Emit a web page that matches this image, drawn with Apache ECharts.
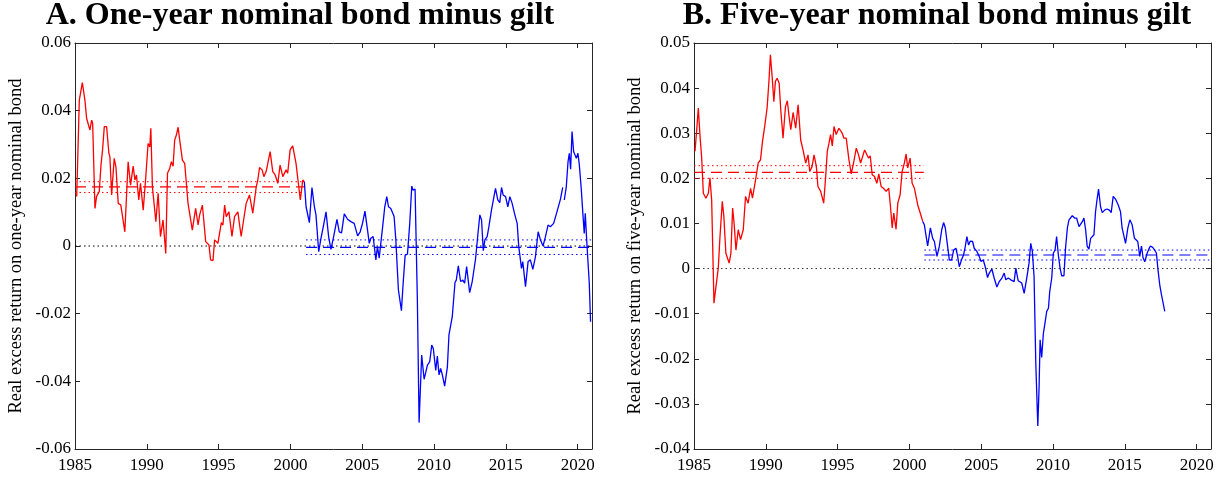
<!DOCTYPE html>
<html><head><meta charset="utf-8">
<script src="https://cdn.jsdelivr.net/npm/echarts@6/dist/echarts.min.js"></script>
<style>html,body{margin:0;padding:0;background:#fff}#c{width:1225px;height:478px}</style>
</head><body><div id="c"></div>
<script>
// ---------- DATA (year, value) ----------
const titles = ['A. One-year nominal bond minus gilt', 'B. Five-year nominal bond minus gilt'];
const yNames = ['Real excess return on one-year nominal bond', 'Real excess return on five-year nominal bond'];
const xTicks = [1985, 1990, 1995, 2000, 2005, 2010, 2015, 2020];
const xRange = [1985, 2021];
const yRangeA = [-0.06, 0.06, 0.02];
const yRangeB = [-0.04, 0.05, 0.01];

const oneYearPre = [
[1985.12,0.0146],[1985.30,0.0431],[1985.51,0.0483],[1985.69,0.0431],[1985.81,0.0377],[1985.93,0.0382],
[1986.04,0.0343],[1986.16,0.0372],[1986.23,0.0363],[1986.39,0.0111],[1986.50,0.0146],[1986.69,0.0161],
[1986.81,0.0239],[1986.92,0.0284],[1987.04,0.0353],[1987.20,0.0353],[1987.36,0.0274],[1987.43,0.0264],
[1987.55,0.0151],[1987.73,0.0259],[1987.85,0.0234],[1988.01,0.0126],[1988.19,0.0121],[1988.47,0.0042],
[1988.70,0.0249],[1988.87,0.0180],[1989.05,0.0236],[1989.17,0.0195],[1989.28,0.0210],[1989.44,0.0136],
[1989.56,0.0185],[1989.75,0.0106],[1989.93,0.0205],[1990.09,0.0303],[1990.21,0.0293],[1990.28,0.0348],
[1990.39,0.0175],[1990.63,0.0072],[1990.79,0.0156],[1990.95,0.0028],[1991.13,0.0077],[1991.32,-0.0022],
[1991.44,0.0215],[1991.60,0.0230],[1991.71,0.0249],[1991.83,0.0236],[1991.94,0.0313],[1992.06,0.0328],
[1992.18,0.0351],[1992.29,0.0313],[1992.48,0.0254],[1992.64,0.0244],[1992.87,0.0126],[1993.17,0.0047],
[1993.40,0.0111],[1993.57,0.0062],[1993.68,0.0092],[1993.87,0.0121],[1994.10,0.0013],[1994.33,0.0003],
[1994.44,-0.0041],[1994.61,-0.0043],[1994.72,0.0018],[1994.95,0.0008],[1995.19,0.0069],[1995.30,0.0062],
[1995.42,0.0121],[1995.53,0.0087],[1995.72,0.0101],[1995.93,0.0028],[1996.11,0.0087],[1996.34,0.0101],
[1996.57,0.0028],[1996.76,0.0082],[1996.92,0.0126],[1997.15,0.0151],[1997.38,0.0097],[1997.62,0.0175],
[1997.73,0.0195],[1997.85,0.0232],[1998.03,0.0225],[1998.15,0.0205],[1998.31,0.0220],[1998.59,0.0279],
[1998.77,0.0220],[1998.94,0.0210],[1999.12,0.0185],[1999.28,0.0239],[1999.47,0.0205],[1999.70,0.0225],
[1999.81,0.0215],[1999.98,0.0284],[2000.16,0.0296],[2000.39,0.0244],[2000.58,0.0175],[2000.69,0.0136],
[2000.86,0.0195],[2000.97,0.0190]
];
const oneYearPost = [
[2000.97,0.0190],[2001.09,0.0116],[2001.32,0.0069],[2001.50,0.0173],[2001.67,0.0116],[2001.78,0.0092],
[2001.97,-0.0017],[2002.13,0.0023],[2002.29,0.0057],[2002.48,0.0101],[2002.66,0.0028],[2002.82,-0.0010],
[2003.01,0.0028],[2003.24,0.0079],[2003.40,0.0042],[2003.56,0.0039],[2003.75,0.0095],[2003.98,0.0079],
[2004.21,0.0072],[2004.44,0.0067],[2004.68,0.0030],[2004.86,0.0042],[2005.02,0.0067],[2005.19,0.0103],
[2005.37,0.0047],[2005.49,0.0008],[2005.60,0.0023],[2005.76,0.0028],[2005.95,-0.0041],[2006.06,-0.0002],
[2006.18,-0.0036],[2006.41,0.0052],[2006.57,0.0116],[2006.71,0.0146],[2006.83,0.0116],[2006.99,0.0111],
[2007.22,0.0087],[2007.34,0.0018],[2007.52,-0.0130],[2007.73,-0.0191],[2007.85,-0.0110],[2007.99,-0.0027],
[2008.15,-0.0024],[2008.31,0.0067],[2008.45,0.0177],[2008.54,0.0165],[2008.68,0.0168],[2008.84,-0.0160],
[2008.96,-0.0522],[2009.14,-0.0322],[2009.31,-0.0394],[2009.54,-0.0352],[2009.70,-0.0342],[2009.84,-0.0293],
[2009.95,-0.0303],[2010.12,-0.0368],[2010.23,-0.0325],[2010.35,-0.0381],[2010.46,-0.0362],[2010.58,-0.0381],
[2010.74,-0.0414],[2010.93,-0.0357],[2011.04,-0.0263],[2011.27,-0.0209],[2011.46,-0.0108],[2011.55,-0.0101],
[2011.69,-0.0059],[2011.85,-0.0105],[2012.01,-0.0101],[2012.13,-0.0110],[2012.27,-0.0061],[2012.48,-0.0138],
[2012.66,-0.0105],[2012.89,-0.0039],[2013.06,0.0037],[2013.19,0.0092],[2013.31,0.0077],[2013.43,-0.0014],
[2013.54,0.0018],[2013.70,0.0028],[2013.82,0.0057],[2014.00,0.0106],[2014.28,0.0170],[2014.44,0.0136],
[2014.58,0.0128],[2014.70,0.0173],[2014.81,0.0151],[2014.98,0.0146],[2015.14,0.0116],[2015.28,0.0146],
[2015.44,0.0126],[2015.63,0.0092],[2015.79,0.0067],[2015.90,-0.0002],[2016.09,-0.0066],[2016.18,-0.0046],
[2016.37,-0.0120],[2016.55,-0.0046],[2016.71,-0.0041],[2016.88,-0.0069],[2017.06,-0.0032],[2017.25,0.0042],
[2017.41,0.0018],[2017.59,0.0000],[2017.75,0.0026],[2017.94,0.0062],[2018.10,0.0057],[2018.33,0.0067],
[2018.50,0.0092],[2018.63,0.0097],[2018.80,0.0138],[2018.96,0.0173],[2019.02,null],[2019.07,0.0136],
[2019.21,0.0175],[2019.33,0.0249],[2019.42,0.0274],[2019.51,0.0227],[2019.61,0.0338],[2019.72,0.0279],
[2019.84,0.0284],[2019.91,0.0259],[2020.02,0.0274],[2020.12,0.0239],[2020.25,0.0170],[2020.37,0.0092],
[2020.46,0.0037],[2020.53,0.0097],[2020.65,0.0003],[2020.72,0.0008],[2020.81,-0.0110],[2020.90,-0.0224]
];
const fiveYearPre = [
[1985.07,0.0260],[1985.19,0.0308],[1985.30,0.0356],[1985.42,0.0293],[1985.53,0.0248],[1985.65,0.0167],
[1985.83,0.0156],[1986.00,0.0167],[1986.11,0.0201],[1986.23,0.0152],[1986.39,-0.0077],[1986.53,-0.0040],
[1986.69,0.0001],[1986.81,0.0071],[1986.97,0.0149],[1987.08,0.0115],[1987.22,0.0034],[1987.34,0.0030],
[1987.45,0.0012],[1987.57,0.0034],[1987.69,0.0134],[1987.80,0.0097],[1987.92,0.0041],[1988.08,0.0086],
[1988.24,0.0064],[1988.43,0.0086],[1988.59,0.0160],[1988.77,0.0145],[1988.94,0.0178],[1989.07,0.0156],
[1989.17,0.0160],[1989.31,0.0201],[1989.47,0.0234],[1989.63,0.0241],[1989.77,0.0282],[1989.93,0.0317],
[1990.09,0.0356],[1990.21,0.0411],[1990.32,0.0474],[1990.44,0.0426],[1990.56,0.0370],[1990.67,0.0415],
[1990.79,0.0422],[1990.93,0.0411],[1991.04,0.0352],[1991.20,0.0289],[1991.37,0.0359],[1991.50,0.0372],
[1991.62,0.0337],[1991.74,0.0308],[1991.90,0.0346],[1992.08,0.0311],[1992.25,0.0363],[1992.43,0.0285],
[1992.59,0.0263],[1992.78,0.0234],[1992.94,0.0252],[1993.06,0.0215],[1993.22,0.0226],[1993.36,0.0252],
[1993.52,0.0226],[1993.63,0.0182],[1993.82,0.0171],[1994.03,0.0145],[1994.17,0.0204],[1994.28,0.0260],
[1994.40,0.0278],[1994.51,0.0297],[1994.63,0.0272],[1994.75,0.0315],[1994.90,0.0297],[1995.09,0.0311],
[1995.32,0.0300],[1995.44,0.0289],[1995.60,0.0289],[1995.79,0.0241],[1995.95,0.0210],[1996.11,0.0234],
[1996.30,0.0267],[1996.46,0.0252],[1996.60,0.0234],[1996.71,0.0245],[1996.88,0.0263],[1996.99,0.0265],
[1997.15,0.0245],[1997.27,0.0250],[1997.41,0.0208],[1997.57,0.0204],[1997.73,0.0189],[1997.87,0.0210],
[1998.03,0.0182],[1998.19,0.0178],[1998.38,0.0171],[1998.56,0.0178],[1998.68,0.0138],[1998.80,0.0090],
[1998.91,0.0123],[1999.07,0.0087],[1999.19,0.0145],[1999.35,0.0163],[1999.49,0.0215],[1999.65,0.0234],
[1999.77,0.0254],[1999.88,0.0223],[2000.05,0.0245],[2000.19,0.0189],[2000.35,0.0178],[2000.46,0.0160],
[2000.58,0.0141],[2000.69,0.0141],[2000.81,0.0117],[2000.93,0.0104]
];
const fiveYearPost = [
[2000.93,0.0104],[2001.04,0.0097],[2001.27,0.0050],[2001.46,0.0090],[2001.62,0.0067],[2001.74,0.0060],
[2001.92,0.0027],[2002.08,0.0049],[2002.25,0.0086],[2002.38,0.0102],[2002.50,0.0090],[2002.66,0.0049],
[2002.78,0.0019],[2002.94,0.0019],[2003.08,0.0041],[2003.24,0.0045],[2003.36,0.0027],[2003.47,0.0004],
[2003.66,0.0022],[2003.77,0.0030],[2003.89,0.0049],[2004.00,0.0071],[2004.12,0.0052],[2004.24,0.0061],
[2004.40,0.0060],[2004.51,0.0045],[2004.70,0.0038],[2004.86,0.0027],[2004.98,0.0016],[2005.14,0.0019],
[2005.28,0.0004],[2005.44,-0.0020],[2005.56,-0.0010],[2005.74,-0.0001],[2005.90,-0.0021],[2006.09,-0.0041],
[2006.25,-0.0029],[2006.44,-0.0021],[2006.60,-0.0010],[2006.71,-0.0025],[2006.88,-0.0021],[2007.06,-0.0025],
[2007.18,-0.0021],[2007.29,-0.0029],[2007.41,0.0001],[2007.57,-0.0027],[2007.82,-0.0032],[2007.99,-0.0055],
[2008.17,-0.0021],[2008.33,0.0012],[2008.45,0.0056],[2008.56,0.0038],[2008.68,-0.0018],[2008.80,-0.0210],
[2008.94,-0.0349],[2009.03,-0.0262],[2009.10,-0.0158],[2009.21,-0.0197],[2009.33,-0.0143],[2009.44,-0.0121],
[2009.56,-0.0095],[2009.68,-0.0088],[2009.77,-0.0051],[2009.91,-0.0021],[2010.02,0.0034],[2010.14,0.0041],
[2010.25,0.0071],[2010.37,0.0030],[2010.49,0.0001],[2010.60,-0.0016],[2010.76,-0.0016],[2010.88,0.0049],
[2011.00,0.0090],[2011.11,0.0108],[2011.23,0.0112],[2011.34,0.0117],[2011.50,0.0112],[2011.64,0.0112],
[2011.81,0.0093],[2011.92,0.0097],[2012.04,0.0104],[2012.15,0.0112],[2012.27,0.0086],[2012.38,0.0049],
[2012.50,0.0043],[2012.62,0.0067],[2012.73,0.0071],[2012.85,0.0075],[2012.96,0.0126],[2013.06,0.0152],
[2013.17,0.0176],[2013.31,0.0137],[2013.43,0.0124],[2013.61,0.0130],[2013.77,0.0132],[2013.94,0.0129],
[2014.05,0.0124],[2014.19,0.0160],[2014.35,0.0154],[2014.54,0.0141],[2014.70,0.0126],[2014.81,0.0090],
[2014.93,0.0093],[2015.05,0.0056],[2015.21,0.0090],[2015.35,0.0108],[2015.51,0.0097],[2015.67,0.0067],
[2015.79,0.0071],[2015.90,0.0060],[2016.04,0.0027],[2016.16,0.0050],[2016.27,0.0024],[2016.39,0.0015],
[2016.55,0.0034],[2016.67,0.0043],[2016.78,0.0050],[2016.94,0.0047],[2017.08,0.0041],[2017.20,0.0034],
[2017.31,-0.0003],[2017.43,-0.0036],[2017.55,-0.0058],[2017.66,-0.0057],[2017.78,-0.0095]
];
// sub-period means and confidence bands: [start, end, mean, lower, upper]
const oneYearPreMean  = [1985.0, 2000.95, 0.0175, 0.0158, 0.0190];
const oneYearPostMean = [2001.09, 2020.95, -0.0004, -0.0025, 0.0018];
const fiveYearPreMean  = [1985.0, 2001.0, 0.0213, 0.0200, 0.0228];
const fiveYearPostMean = [2001.04, 2020.95, 0.0030, 0.0019, 0.0041];
const zeroLine = [1985.0, 2020.95, 0];

// ---------- CHART ----------
const RED = '#ff0000', BLUE = '#0000ff', AX = '#262626';
const SERIF = '"Liberation Serif", "DejaVu Serif", serif';
const chart = echarts.init(document.getElementById('c'), null, {renderer: 'canvas'});

const grids = [
  {left: 75, top: 43, width: 517, height: 406},
  {left: 694, top: 43, width: 517, height: 406}
];
const titleCenters = [300, 937];
function fmtY(v) { return Math.abs(v) < 1e-9 ? '0' : v.toFixed(2); }
const xAxes = [], yAxes = [];
[0, 1].forEach(g => {
  const yr = g === 0 ? yRangeA : yRangeB;
  ['bottom', 'top'].forEach(pos => {
    xAxes.push({
      type: 'value', gridIndex: g, position: pos, min: xRange[0], max: xRange[1], interval: 5,
      axisLine: {show: true, onZero: false, lineStyle: {color: AX, width: 1}},
      axisTick: {show: true, inside: true, length: 5, lineStyle: {color: AX}},
      axisLabel: {show: pos === 'bottom', color: '#000', fontFamily: SERIF, fontSize: 17, margin: 8,
        formatter: v => xTicks.indexOf(Math.round(v)) >= 0 && Math.abs(v - Math.round(v)) < 1e-6 ? String(Math.round(v)) : ''},
      splitLine: {show: false}
    });
  });
  ['left', 'right'].forEach(pos => {
    yAxes.push({
      type: 'value', gridIndex: g, position: pos, min: yr[0], max: yr[1], interval: yr[2],
      name: pos === 'left' ? yNames[g] : '', nameLocation: 'middle', nameGap: 49, nameRotate: 90,
      nameTextStyle: {color: '#000', fontFamily: SERIF, fontSize: 18.5},
      axisLine: {show: true, onZero: false, lineStyle: {color: AX, width: 1}},
      axisTick: {show: true, inside: true, length: 5, lineStyle: {color: AX}},
      axisLabel: {show: pos === 'left', color: '#000', fontFamily: SERIF, fontSize: 17, margin: 4, formatter: fmtY},
      splitLine: {show: false}
    });
  });
});

function line(data, g, color, width, type, z) {
  return {type: 'line', xAxisIndex: g * 2, yAxisIndex: g * 2, data: data, showSymbol: false, symbol: 'none',
    connectNulls: false, animation: false, silent: true, z: z || 2,
    lineStyle: {color: color, width: width, type: type || 'solid'}};
}
function meanLines(m, g, color) {
  return [
    line([[m[0], m[2]], [m[1], m[2]]], g, color, 1.2, [11, 6], 4),
    line([[m[0], m[3]], [m[1], m[3]]], g, color, 1, [1.5, 3], 4),
    line([[m[0], m[4]], [m[1], m[4]]], g, color, 1, [1.5, 3], 4)
  ];
}
const series = [
  line([[zeroLine[0], zeroLine[2]], [zeroLine[1], zeroLine[2]]], 0, '#000', 1, [1.5, 3], 1),
  line([[zeroLine[0], zeroLine[2]], [zeroLine[1], zeroLine[2]]], 1, '#333', 1, [1.5, 3], 1),
  line(oneYearPre, 0, RED, 1.3),
  line(oneYearPost, 0, BLUE, 1.3),
  line(fiveYearPre, 1, RED, 1.3),
  line(fiveYearPost, 1, BLUE, 1.3),
  ...meanLines(oneYearPreMean, 0, RED),
  ...meanLines(oneYearPostMean, 0, BLUE),
  ...meanLines(fiveYearPreMean, 1, RED),
  ...meanLines(fiveYearPostMean, 1, BLUE)
];

chart.setOption({
  backgroundColor: '#fff',
  animation: false,
  grid: grids,
  xAxis: xAxes,
  yAxis: yAxes,
  graphic: titles.map((t, i) => ({
    type: 'text', x: titleCenters[i], y: 0,
    style: {text: t, fill: '#000', font: 'bold 32px ' + SERIF, textAlign: 'center', textVerticalAlign: 'top'}
  })),
  series: series
});
</script></body></html>
